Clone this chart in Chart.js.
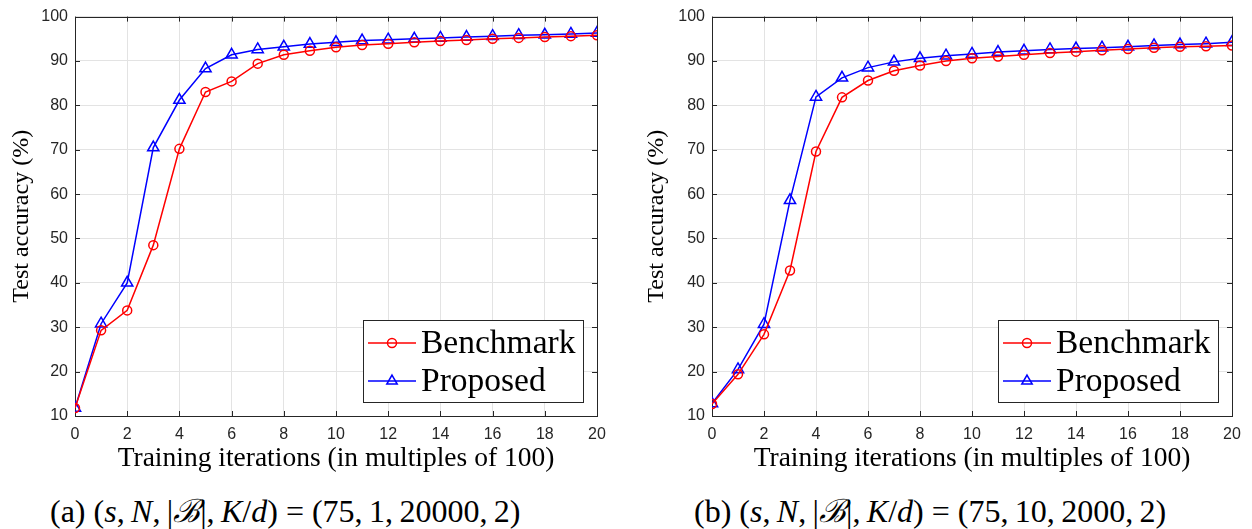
<!DOCTYPE html>
<html>
<head>
<meta charset="utf-8">
<script src="https://cdn.jsdelivr.net/npm/chart.js@4/dist/chart.umd.min.js"></script>
<style>
  html, body { margin: 0; padding: 0; background: #fff; }
  body { width: 1252px; height: 529px; position: relative; overflow: hidden; }
  .panel { position: absolute; top: 0; width: 626px; height: 482px; }
  .cap { position: absolute; top: 488px; font-family: "Liberation Serif", "DejaVu Serif", serif; font-size: 32px; color: #000; white-space: nowrap; }
  .cap i { font-style: italic; }
</style>
</head>
<body>
<div class="panel" style="left:0"><canvas id="c1" width="626" height="482"></canvas></div>
<div class="panel" style="left:626px"><canvas id="c2" width="626" height="482"></canvas></div>
<div class="cap" style="left:50px">(a) (<i>s</i>,&#8201;<i>N</i>,&#8201;|<i>ℬ</i>|,&#8201;<i>K</i>/<i>d</i>) = (75,&#8201;1,&#8201;20000,&#8201;2)</div>
<div class="cap" style="left:694px">(b) (<i>s</i>,&#8201;<i>N</i>,&#8201;|<i>ℬ</i>|,&#8201;<i>K</i>/<i>d</i>) = (75,&#8201;10,&#8201;2000,&#8201;2)</div>
<script>
// ---- data ----
const iterations = [0,1,2,3,4,5,6,7,8,9,10,11,12,13,14,15,16,17,18,19,20];
const benchmarkA = [11.8,29.3,33.8,48.5,70.2,83.0,85.4,89.4,91.4,92.3,93.1,93.6,93.9,94.2,94.5,94.7,95.0,95.2,95.4,95.6,95.8];
const proposedA  = [11.8,30.8,40.0,70.5,81.2,88.3,91.4,92.6,93.2,93.8,94.2,94.6,94.8,95.0,95.2,95.4,95.6,95.8,95.9,96.1,96.3];
const benchmarkB = [12.7,19.4,28.4,42.8,69.6,81.8,85.6,87.8,89.0,90.0,90.6,91.0,91.4,91.8,92.1,92.4,92.7,93.0,93.2,93.3,93.5];
const proposedB  = [12.8,20.5,30.7,58.6,81.9,86.2,88.5,89.8,90.6,91.2,91.6,92.0,92.3,92.6,92.8,93.0,93.2,93.5,93.7,93.9,94.2];
const seriesNames = ["Benchmark", "Proposed"];
const xTitle = "Training iterations (in multiples of 100)";
const yTitle = "Test accuracy (%)";

const AXIS = "#262626";
const GRID = "#e3e3e3";
const SERIF = "'Liberation Serif', 'DejaVu Serif', serif";
const SANS = "'Liberation Sans', Arial, sans-serif";

const pts = arr => arr.map((v, i) => ({ x: iterations[i], y: v }));

const boxPlugin = {
  id: 'matlabBox',
  beforeDatasetsDraw(chart) {
    const { ctx, chartArea: a, scales } = chart;
    ctx.save();
    ctx.strokeStyle = AXIS;
    ctx.lineWidth = 1;
    ctx.strokeRect(Math.round(a.left) + 0.5, Math.round(a.top) + 0.5, Math.round(a.right - a.left), Math.round(a.bottom - a.top));
    const tl = 5;
    ctx.beginPath();
    scales.x.ticks.forEach(t => {
      const px = Math.round(scales.x.getPixelForValue(t.value)) + 0.5;
      ctx.moveTo(px, a.bottom); ctx.lineTo(px, a.bottom - tl);
      ctx.moveTo(px, a.top); ctx.lineTo(px, a.top + tl);
    });
    scales.y.ticks.forEach(t => {
      const py = Math.round(scales.y.getPixelForValue(t.value)) + 0.5;
      ctx.moveTo(a.left, py); ctx.lineTo(a.left + tl, py);
      ctx.moveTo(a.right, py); ctx.lineTo(a.right - tl, py);
    });
    ctx.stroke();
    ctx.restore();
  },
  afterDraw(chart) {
    const { ctx, chartArea: a } = chart;
    const w = 220, h = 82;
    const x0 = a.right - 14 - w, y0 = a.bottom - 14 - h;
    ctx.save();
    ctx.fillStyle = '#fff';
    ctx.fillRect(x0, y0, w, h);
    ctx.strokeStyle = AXIS;
    ctx.lineWidth = 1;
    ctx.strokeRect(Math.round(x0) + 0.5, Math.round(y0) + 0.5, w, h);
    chart.data.datasets.forEach((ds, i) => {
      const cy = y0 + 23 + i * 38;
      ctx.strokeStyle = ds.borderColor;
      ctx.lineWidth = 1.5;
      ctx.beginPath();
      ctx.moveTo(x0 + 5, cy); ctx.lineTo(x0 + 53, cy);
      ctx.stroke();
      ctx.fillStyle = 'rgba(0,0,0,0)';
      Chart.helpers.drawPoint(ctx, { pointStyle: ds.pointStyle, radius: ds.pointStyle === 'triangle' ? 6 : 4.5, borderWidth: 1.5, rotation: 0 }, x0 + 29, cy);
      ctx.fillStyle = '#000';
      ctx.font = "33.5px " + SERIF;
      ctx.textBaseline = 'middle';
      ctx.textAlign = 'left';
      ctx.fillText(ds.label, x0 + 58, cy + 1);
    });
    ctx.restore();
  }
};

function makeChart(id, bench, prop, yWidth, yTitlePad, rightPad) {
  return new Chart(document.getElementById(id), {
    type: 'line',
    data: {
      datasets: [
        { label: seriesNames[0], data: pts(bench), borderColor: '#ff0000', backgroundColor: 'rgba(0,0,0,0)',
          pointStyle: 'circle', pointRadius: 4.5, pointBorderWidth: 1.5, borderWidth: 1.5, tension: 0 },
        { label: seriesNames[1], data: pts(prop), borderColor: '#0000ff', backgroundColor: 'rgba(0,0,0,0)',
          pointStyle: 'triangle', pointRadius: 6.5, pointBorderWidth: 1.5, borderWidth: 1.5, tension: 0 }
      ]
    },
    options: {
      responsive: false,
      animation: false,
      layout: { padding: { left: 0, right: rightPad, top: 9, bottom: 12 } },
      plugins: { legend: { display: false }, tooltip: { enabled: false } },
      elements: { point: { hoverRadius: 0 } },
      scales: {
        x: {
          type: 'linear', min: 0, max: 20,
          ticks: { stepSize: 2, color: AXIS, font: { family: SANS, size: 16 }, padding: 9, maxRotation: 0 },
          grid: { color: GRID, drawTicks: false },
          border: { display: false },
          title: { display: true, text: xTitle, color: '#000', font: { family: SERIF, size: 27.5, lineHeight: 0.85 }, padding: 0 },
          afterFit: s => { s.height = 54; }
        },
        y: {
          type: 'linear', min: 10, max: 100,
          ticks: { stepSize: 10, color: AXIS, font: { family: SANS, size: 16 }, padding: 7 },
          grid: { color: GRID, drawTicks: false },
          border: { display: false },
          title: { display: true, text: yTitle, color: '#000', font: { family: SERIF, size: 24, lineHeight: 1 }, padding: { top: yTitlePad, bottom: 0 } },
          afterFit: s => { s.width = yWidth; }
        }
      }
    },
    plugins: [boxPlugin]
  });
}

makeChart('c1', benchmarkA, proposedA, 75, 10, 29);
makeChart('c2', benchmarkB, proposedB, 86, 19, 20);
</script>
</body>
</html>
